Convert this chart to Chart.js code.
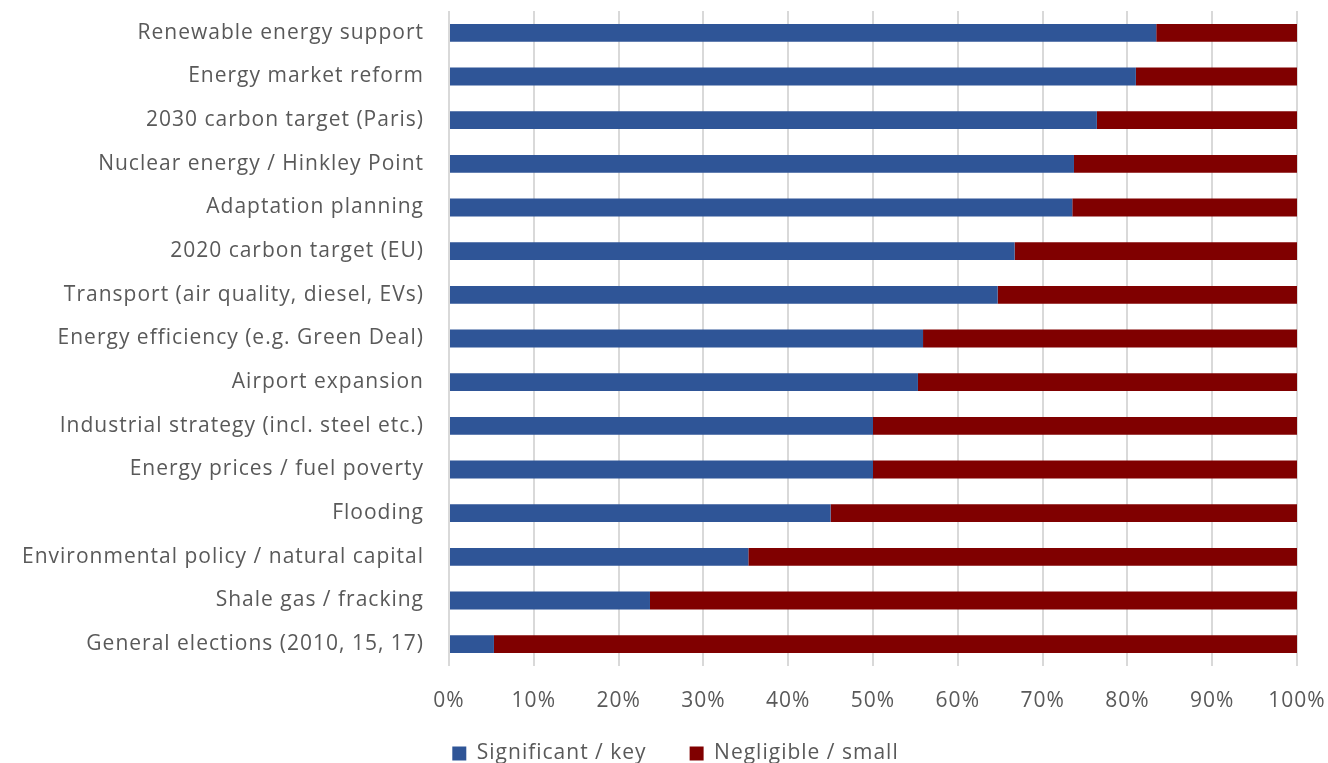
<!DOCTYPE html>
<html>
<head>
<meta charset="utf-8">
<script src="https://cdn.jsdelivr.net/npm/chart.js@4/dist/chart.umd.min.js"></script>
<style>
  html, body { margin: 0; padding: 0; background: #fff; }
  #chart { display: block; }
</style>
</head>
<body>
<canvas id="chart" width="1328" height="763"></canvas>
<script>
const categories = [
  'Renewable energy support',
  'Energy market reform',
  '2030 carbon target (Paris)',
  'Nuclear energy / Hinkley Point',
  'Adaptation planning',
  '2020 carbon target (EU)',
  'Transport (air quality, diesel, EVs)',
  'Energy efficiency (e.g. Green Deal)',
  'Airport expansion',
  'Industrial strategy (incl. steel etc.)',
  'Energy prices / fuel poverty',
  'Flooding',
  'Environmental policy / natural capital',
  'Shale gas / fracking',
  'General elections (2010, 15, 17)'
];
const significant = [83.4, 81.0, 76.4, 73.7, 73.5, 66.7, 64.7, 55.9, 55.3, 50.0, 50.0, 45.0, 35.3, 23.7, 5.3];
const negligible = significant.map(v => +(100 - v).toFixed(1));
const xTicks = [0, 10, 20, 30, 40, 50, 60, 70, 80, 90, 100];

const textColor = '#595959';
const fontFamily = '"Open Sans", "Noto Sans", sans-serif';

// reference text is spaced out a little
const spacing = {
  id: 'spacing',
  beforeLayout: chart => { chart.ctx.letterSpacing = '1px'; },
  beforeDraw: chart => { chart.ctx.letterSpacing = '1px'; },
  afterLayout: chart => {
    // legend sits a bit right of the canvas centre in the original
    if (chart.legend) { chart.legend.left += 27; chart.legend.right += 27; }
  }
};

new Chart(document.getElementById('chart').getContext('2d'), {
  type: 'bar',
  data: {
    labels: categories,
    datasets: [
      { label: 'Significant / key', data: significant, backgroundColor: '#2F5597' },
      { label: 'Negligible / small', data: negligible, backgroundColor: '#800000' }
    ]
  },
  plugins: [spacing],
  options: {
    indexAxis: 'y',
    responsive: false,
    animation: false,
    categoryPercentage: 1,
    barPercentage: 0.41,
    layout: { padding: { top: 11, right: 31, left: 0, bottom: -11 } },
    plugins: {
      tooltip: { enabled: false },
      legend: {
        position: 'bottom',
        labels: {
          color: textColor,
          font: { family: fontFamily, size: 21 },
          boxWidth: 14,
          boxHeight: 14,
          padding: 20,
          generateLabels: chart => {
            const items = Chart.defaults.plugins.legend.labels.generateLabels(chart);
            items[0].text += '\u2002\u2002';
            return items;
          }
        }
      }
    },
    scales: {
      x: {
        stacked: true,
        min: 0,
        max: 100,
        afterBuildTicks: axis => { axis.ticks = xTicks.map(v => ({ value: v })); },
        afterFit: axis => { axis.paddingLeft = 0; axis.paddingRight = 0; axis.height = 57; },
        ticks: {
          color: textColor,
          font: { family: fontFamily, size: 21 },
          padding: 22,
          callback: v => v + '%'
        },
        grid: { color: '#d9d9d9', lineWidth: 2, drawTicks: false },
        border: { display: false }
      },
      y: {
        stacked: true,
        afterFit: axis => { axis.paddingTop = 0; axis.paddingBottom = 0; axis.width = 449; },
        ticks: {
          color: textColor,
          font: { family: fontFamily, size: 21 },
          padding: 25
        },
        grid: { display: false, drawTicks: false },
        border: { display: false }
      }
    }
  }
});
</script>
</body>
</html>
